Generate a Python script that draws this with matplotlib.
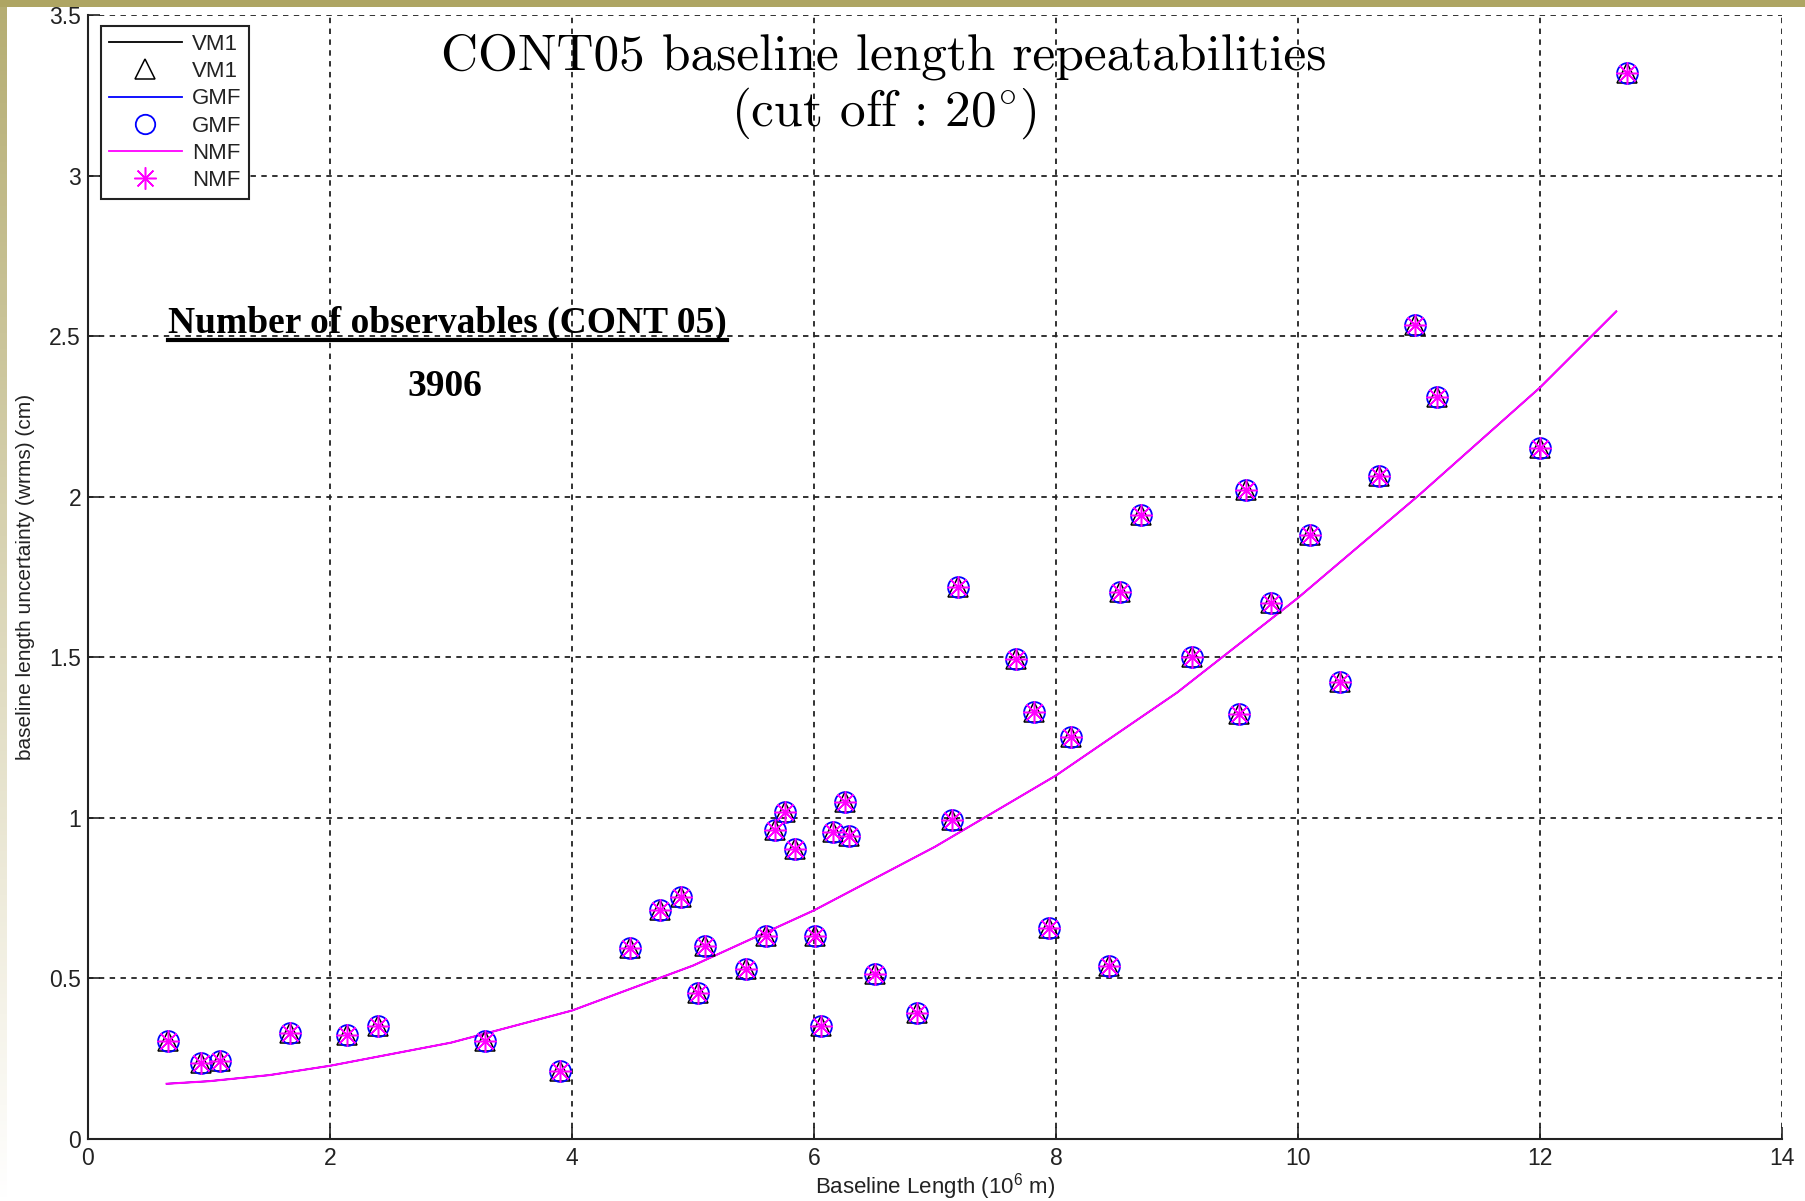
import matplotlib.pyplot as plt
import numpy as np
from matplotlib.lines import Line2D
from matplotlib.patches import Rectangle

plt.rcParams['font.family'] = 'Liberation Sans'
plt.rcParams['mathtext.fontset'] = 'custom'
plt.rcParams['mathtext.rm'] = 'Liberation Sans'
plt.rcParams['mathtext.it'] = 'Liberation Sans:italic'

# baseline length (10^6 m) and wrms repeatability (cm) for each baseline
baseline_len = [0.66, 0.93, 1.09, 1.67, 2.14, 2.40, 3.28, 3.90, 4.48, 4.73,
                4.90, 5.10, 5.04, 5.44, 5.60, 5.68, 5.76, 5.84, 6.01, 6.06,
                6.16, 6.26, 6.29, 6.50, 6.85, 7.14, 7.19, 7.67, 7.82, 7.94,
                8.12, 8.44, 8.53, 8.70, 9.12, 9.51, 9.57, 9.78, 10.10, 10.35,
                10.67, 10.97, 11.15, 12.00, 12.72]
wrms_vm1 = [0.305, 0.237, 0.244, 0.330, 0.323, 0.351, 0.305, 0.211, 0.595, 0.713,
            0.753, 0.602, 0.455, 0.530, 0.631, 0.961, 1.018, 0.903, 0.631, 0.351,
            0.957, 1.050, 0.943, 0.513, 0.391, 0.993, 1.720, 1.495, 1.330, 0.656,
            1.251, 0.538, 1.703, 1.943, 1.502, 1.323, 2.022, 1.670, 1.882, 1.423,
            2.065, 2.534, 2.312, 2.151, 3.319]
wrms_gmf = list(wrms_vm1)
wrms_nmf = list(wrms_vm1)

# fitted repeatability trend
fit_x = [0.65, 1.0, 1.5, 2.0, 3.0, 4.0, 5.0, 6.0, 7.0, 8.0, 9.0, 10.0, 11.0, 12.0, 12.63]
fit_vm1 = [0.172, 0.180, 0.199, 0.228, 0.300, 0.400, 0.540, 0.712, 0.910, 1.132,
           1.390, 1.685, 2.005, 2.340, 2.577]
fit_gmf = list(fit_vm1)
fit_nmf = list(fit_vm1)

xticks = [0, 2, 4, 6, 8, 10, 12, 14]
yticks = [0, 0.5, 1, 1.5, 2, 2.5, 3, 3.5]
ytick_labels = ['0', '0.5', '1', '1.5', '2', '2.5', '3', '3.5']

W, H = 1805, 1201
fig = plt.figure(figsize=(W / 100, H / 100), dpi=100, facecolor='white')

# olive frame strip along the top and left edge
fig.add_artist(Rectangle((0, 1 - 7 / H), 1, 7 / H, transform=fig.transFigure,
                         facecolor='#aea563', edgecolor='none', zorder=0))
strip = fig.add_axes([0, 0, 7 / W, 1 - 7 / H], zorder=0)
strip.axis('off')
top_c = np.array([0.71, 0.68, 0.45])
mid_c = np.array([0.95, 0.94, 0.89])
t = np.linspace(0, 1, 300)[:, None]
grad = np.where(t < 0.8, top_c + (mid_c - top_c) * (t / 0.8),
                mid_c + (1 - mid_c) * ((t - 0.8) / 0.2))
strip.imshow(grad[:, None, :], aspect='auto', extent=[0, 1, 0, 1])

ax = fig.add_axes([88 / W, 1 - 1139 / H, (1782 - 88) / W, (1139 - 15) / H], zorder=2)

ax.plot(fit_x, fit_vm1, color='black', lw=1.0, zorder=3)
ax.plot(fit_x, fit_gmf, color='blue', lw=1.0, zorder=3)
ax.plot(fit_x, fit_nmf, color='#ff00ff', lw=1.5, zorder=3)

ax.plot(baseline_len, wrms_vm1, ls='none', marker='^', ms=14, mfc='none',
        mec='black', mew=1.1, zorder=4)
ax.plot(baseline_len, wrms_gmf, ls='none', marker='o', ms=15, mfc='none',
        mec='blue', mew=1.3, zorder=4)
ax.plot(baseline_len, wrms_nmf, ls='none', marker=(8, 2, 0), ms=16,
        mec='#ff00ff', mew=1.1, zorder=5)
ax.plot(baseline_len, wrms_nmf, ls='none', marker='o', ms=4, mfc='#ff00ff',
        mec='none', zorder=5)

ax.set_xlim(0, 14)
ax.set_ylim(0, 3.5)
ax.set_xticks(xticks)
ax.set_xticklabels([str(v) for v in xticks])
ax.set_yticks(yticks)
ax.set_yticklabels(ytick_labels)
ax.tick_params(direction='in', length=8.5, width=1.2, labelsize=16.5,
               colors='#222222', pad=6)
ax.tick_params(axis='y', pad=5)

ax.grid(True, color='#222222', linestyle=(0, (3, 3)), linewidth=1.3)
ax.set_axisbelow(True)
for side in ['top', 'right']:
    ax.spines[side].set_visible(False)
for side in ['left', 'bottom']:
    ax.spines[side].set_linewidth(1.5)
    ax.spines[side].set_color('#222222')

ax.set_xlabel('Baseline Length (10$^{6}$ m)', fontsize=16, color='#222222', va='center')
ax.set_ylabel('baseline length uncertainty (wrms) (cm)', fontsize=15, color='#222222',
              va='center')
ax.xaxis.set_label_coords(0.5, -0.042)
ax.yaxis.set_label_coords(-0.037, 0.5)

# legend with separate line and marker entries per mapping function
handles = [
    Line2D([], [], color='black', lw=1.3),
    Line2D([], [], ls='none', marker='^', ms=14, mfc='none', mec='black', mew=1.1),
    Line2D([], [], color='blue', lw=1.3),
    Line2D([], [], ls='none', marker='o', ms=14, mfc='none', mec='blue', mew=1.3),
    Line2D([], [], color='#ff00ff', lw=1.3),
    Line2D([], [], ls='none', marker=(8, 2, 0), ms=16, mec='#ff00ff', mew=1.1),
]
labels = ['VM1', 'VM1', 'GMF', 'GMF', 'NMF', 'NMF']
leg = ax.legend(handles, labels, loc='upper left', bbox_to_anchor=(0.0077, 0.990),
                borderaxespad=0, fancybox=False, edgecolor='#222222', framealpha=1,
                fontsize=16, handlelength=3.3, handletextpad=0.45,
                labelspacing=0.28, borderpad=0.35)
leg.get_frame().set_linewidth(1.5)
leg.set_zorder(6)
for txt in leg.get_texts():
    txt.set_color('#222222')

fig.text(884 / W, 1 - 57 / H, 'CONT05 baseline length repeatabilities',
         family='cmr10', fontsize=37, ha='center', va='center', zorder=7)
fig.text(884 / W, 1 - 113 / H, r'(cut off : 20$^{\circ}$)', family='cmr10',
         math_fontfamily='cm', fontsize=37, ha='center', va='center', zorder=7)

obs = fig.text(168 / W, 1 - 333 / H, 'Number of observables (CONT 05)',
               family='Liberation Serif', fontweight='bold', fontsize=27,
               ha='left', va='baseline', zorder=7)
fig.text(445 / W, 1 - 386 / H, '3906', family='Liberation Serif',
         fontweight='bold', fontsize=27, ha='center', va='center', zorder=7)

# underline under the observables heading
fig.canvas.draw()
bb = obs.get_window_extent()
uy = (bb.y0 + 1) / H
fig.add_artist(Line2D([bb.x0 / W, bb.x1 / W], [uy, uy], transform=fig.transFigure,
                      color='black', lw=3, zorder=7))

fig.savefig('out.png', dpi=100)
